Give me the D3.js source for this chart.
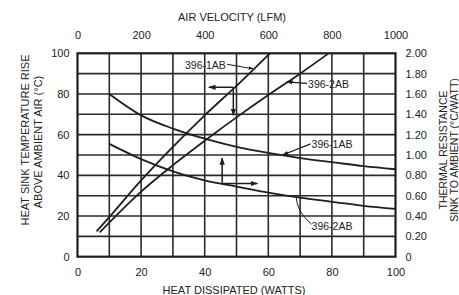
<!DOCTYPE html>
<html>
<head>
<meta charset="utf-8">
<script src="https://cdn.jsdelivr.net/npm/d3@7"></script>
<style>
  body { margin: 0; background: #fff; }
  svg text { font-family: "Liberation Sans", Arial, sans-serif; fill: #222; }
</style>
</head>
<body>
<svg id="chart" width="459" height="295"></svg>
<script>
// heat sink temperature rise vs heat dissipated (bottom / left axes)
var watts1AB = [6, 10, 20, 30, 40, 50, 60.5];
var rise1AB  = [12.5, 19.5, 37.5, 54, 69.5, 84, 100];
var watts2AB = [7, 20, 30, 41.7, 50, 60, 70, 79];
var rise2AB  = [12, 32, 45, 59, 68.5, 79.5, 90, 100];

// thermal resistance vs air velocity (top / right axes)
var lfm     = [100, 200, 300, 400, 500, 600, 700, 800, 900, 1000];
var res1AB  = [1.60, 1.39, 1.26, 1.16, 1.08, 1.02, 0.97, 0.93, 0.89, 0.86];
var res2AB  = [1.11, 0.96, 0.84, 0.75, 0.69, 0.63, 0.58, 0.54, 0.50, 0.47];

var wattTicks = [0, 20, 40, 60, 80, 100];
var riseTicks = [0, 20, 40, 60, 80, 100];
var lfmTicks  = [0, 200, 400, 600, 800, 1000];
var resTicks  = [0, 0.2, 0.4, 0.6, 0.8, 1.0, 1.2, 1.4, 1.6, 1.8, 2.0];

var svg = d3.select("#chart");
// plot box (window.top is reserved, so prefix the names)
var pLeft = 77.5, pRight = 395.5, pTop = 53.3, pBottom = 256.7;

var x  = d3.scaleLinear().domain([0, 100]).range([pLeft, pRight]);
var xT = d3.scaleLinear().domain([0, 1000]).range([pLeft, pRight]);
var y  = d3.scaleLinear().domain([0, 100]).range([pBottom, pTop]);
var yR = d3.scaleLinear().domain([0, 2]).range([pBottom, pTop]);

var ink = "#1e1e1e";

// grid
var g = svg.append("g");
g.selectAll(".vx").data(d3.range(10, 100, 10)).enter().append("line")
    .attr("x1", function(d) { return x(d); }).attr("x2", function(d) { return x(d); })
    .attr("y1", pTop).attr("y2", pBottom)
    .attr("stroke", "#2a2a2a").attr("stroke-width", 1.6);
g.selectAll(".hy").data(d3.range(10, 100, 10)).enter().append("line")
    .attr("y1", function(d) { return y(d); }).attr("y2", function(d) { return y(d); })
    .attr("x1", pLeft).attr("x2", pRight)
    .attr("stroke", "#2a2a2a").attr("stroke-width", 1.6);
g.append("rect").attr("x", pLeft).attr("y", pTop)
    .attr("width", pRight - pLeft).attr("height", pBottom - pTop)
    .attr("fill", "none").attr("stroke", ink).attr("stroke-width", 2.2);

// axes (tick labels only, like the scanned original)
function noLine(sel) { sel.select(".domain").remove(); sel.selectAll(".tick line").remove(); }
var fs = "11px";
svg.append("g").attr("transform", "translate(0," + (pBottom + 9) + ")")
    .call(d3.axisBottom(x).tickValues(wattTicks).tickSize(0))
    .call(noLine).selectAll("text").style("font-size", fs).attr("fill", "#222");
svg.append("g").attr("transform", "translate(0," + (pTop - 11) + ")")
    .call(d3.axisTop(xT).tickValues(lfmTicks).tickSize(0).tickFormat(d3.format("d")))
    .call(noLine).selectAll("text").style("font-size", fs).attr("fill", "#222");
svg.append("g").attr("transform", "translate(" + (pLeft - 5) + ",0)")
    .call(d3.axisLeft(y).tickValues(riseTicks).tickSize(0))
    .call(noLine).selectAll("text").style("font-size", fs).attr("fill", "#222");
svg.append("g").attr("transform", "translate(" + (pRight + 7) + ",0)")
    .call(d3.axisRight(yR).tickValues(resTicks).tickSize(0)
        .tickFormat(function(d) { return d === 0 ? "0" : d3.format(".2f")(d); }))
    .call(noLine).selectAll("text").style("font-size", fs).attr("fill", "#222");

// axis titles
svg.append("text").attr("x", 232).attr("y", 21).attr("text-anchor", "middle")
    .style("font-size", "11px").text("AIR VELOCITY (LFM)");
svg.append("text").attr("x", 234).attr("y", 294).attr("text-anchor", "middle")
    .style("font-size", "11px").text("HEAT DISSIPATED (WATTS)");
svg.append("text").attr("transform", "translate(29,140) rotate(-90)").attr("text-anchor", "middle")
    .style("font-size", "11px").text("HEAT SINK TEMPERATURE RISE");
svg.append("text").attr("transform", "translate(42,142) rotate(-90)").attr("text-anchor", "middle")
    .style("font-size", "11px").text("ABOVE AMBIENT AIR (°C)");
svg.append("text").attr("transform", "translate(447,150) rotate(-90)").attr("text-anchor", "middle")
    .style("font-size", "10.5px").text("THERMAL RESISTANCE");
svg.append("text").attr("transform", "translate(458,150) rotate(-90)").attr("text-anchor", "middle")
    .style("font-size", "10.5px").text("SINK TO AMBIENT (°C/WATT)");

// curves
var riseLine = d3.line().curve(d3.curveMonotoneX)
    .x(function(d) { return x(d[0]); }).y(function(d) { return y(d[1]); });
var resLine = d3.line().curve(d3.curveMonotoneX)
    .x(function(d) { return xT(d[0]); }).y(function(d) { return yR(d[1]); });

function drawCurve(gen, xs, ys) {
    svg.append("path").datum(d3.zip(xs, ys)).attr("d", gen)
        .attr("fill", "none").attr("stroke", ink).attr("stroke-width", 1.8);
}
drawCurve(riseLine, watts1AB, rise1AB);
drawCurve(riseLine, watts2AB, rise2AB);
drawCurve(resLine, lfm, res1AB);
drawCurve(resLine, lfm, res2AB);

// arrow marker
svg.append("defs").append("marker").attr("id", "arr")
    .attr("viewBox", "0 0 10 10").attr("refX", 9).attr("refY", 5)
    .attr("markerWidth", 5).attr("markerHeight", 5).attr("orient", "auto")
    .append("path").attr("d", "M0,1.5 L10,5 L0,8.5 Z").attr("fill", ink);

function seg(x1, y1, x2, y2, w) {
    svg.append("line").attr("x1", x1).attr("y1", y1).attr("x2", x2).attr("y2", y2)
        .attr("stroke", ink).attr("stroke-width", w || 1.3).attr("marker-end", "url(#arr)");
}

// bent arrows: from 1AB rise curve to left / bottom, from 2AB resistance curve to top / right
seg(x(49), y(83.3), x(41.3), y(83.3), 1.5);
seg(x(49), y(83.3), x(49), y(69.5), 1.5);
seg(xT(455), yR(0.72), xT(455), yR(0.97), 1.5);
seg(xT(455), yR(0.72), xT(566), yR(0.72), 1.5);

// labels with leaders
function label(px, py, txt) {
    svg.append("text").attr("x", px).attr("y", py).style("font-size", "10.5px").text(txt);
}
label(x(33.8), y(92.3), "396-1AB");
seg(x(47), y(94.6), x(55.2), y(92.4), 1);
label(x(72.5), y(82.7), "396-2AB");
seg(x(72.2), y(85.2), x(65.8), y(86));
label(x(73.6), y(53.2), "396-1AB");
seg(x(73.3), y(55.5), xT(645), yR(1.0));
label(x(73.6), y(13.3), "396-2AB");
svg.append("path")
    .attr("d", "M" + x(73.6) + "," + y(16) + " Q" + x(68.9) + "," + y(22) + " " + xT(687) + "," + yR(0.6))
    .attr("fill", "none").attr("stroke", ink).attr("stroke-width", 1);
</script>
</body>
</html>
